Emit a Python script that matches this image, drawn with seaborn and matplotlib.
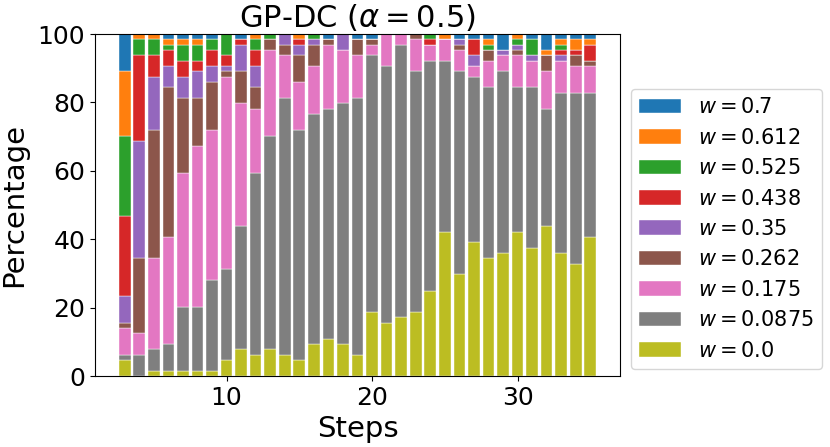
import matplotlib
matplotlib.use("Agg")
import matplotlib.pyplot as plt
import pandas as pd
import seaborn as sns

# optimisation steps on the x axis
steps = list(range(3, 36))

# number of the 64 runs that picked each w at every step
n_runs = 64
w_0_7 = [7, 0, 0, 1, 1, 1, 1, 0, 1, 0, 0, 0, 0, 0, 1, 0, 1, 1, 0, 0,
         0, 0, 0, 1, 1, 1, 3, 0, 1, 3, 1, 1, 1]
w_0_612 = [12, 1, 1, 1, 1, 1, 0, 0, 0, 1, 0, 0, 1, 0, 0, 0, 0, 0, 0, 0,
           0, 0, 1, 0, 0, 1, 0, 1, 0, 1, 1, 2, 1]
w_0_525 = [15, 3, 3, 1, 3, 3, 2, 4, 0, 2, 1, 0, 0, 1, 0, 0, 0, 0, 0, 0,
           0, 1, 0, 0, 0, 1, 0, 1, 3, 0, 1, 0, 0]
w_0_438 = [15, 16, 4, 3, 3, 2, 3, 2, 1, 3, 0, 0, 1, 0, 0, 0, 0, 0, 0, 0,
           0, 1, 0, 0, 3, 0, 0, 0, 0, 0, 1, 1, 3]
w_0_35 = [5, 22, 10, 4, 4, 5, 3, 1, 5, 4, 0, 2, 2, 1, 0, 3, 0, 0, 0, 0,
          0, 0, 0, 1, 2, 0, 1, 1, 1, 0, 1, 0, 0]
w_0_262 = [1, 14, 24, 28, 14, 9, 9, 1, 6, 4, 2, 2, 5, 4, 1, 0, 3, 1, 0, 0,
           1, 0, 0, 1, 0, 2, 0, 1, 0, 3, 0, 2, 1]
w_0_175 = [5, 4, 17, 20, 25, 30, 28, 36, 23, 12, 16, 8, 9, 9, 12, 10, 8, 2, 6, 2,
           6, 3, 4, 4, 2, 5, 3, 6, 5, 7, 6, 5, 5]
w_0_0875 = [1, 4, 4, 5, 12, 12, 17, 17, 23, 34, 40, 48, 43, 43, 43, 45, 48, 48, 48, 51,
            45, 43, 32, 38, 31, 32, 34, 27, 30, 22, 30, 32, 27]
w_0_0 = [3, 0, 1, 1, 1, 1, 1, 3, 5, 4, 5, 4, 3, 6, 7, 6, 4, 12, 10, 11,
         12, 16, 27, 19, 25, 22, 23, 27, 24, 28, 23, 21, 26]

# legend order (top of the stack first)
w_labels = ["0.7", "0.612", "0.525", "0.438", "0.35", "0.262", "0.175", "0.0875", "0.0"]
w_counts = [w_0_7, w_0_612, w_0_525, w_0_438, w_0_35, w_0_262, w_0_175, w_0_0875, w_0_0]

rows = []
for lab, counts in zip(w_labels, w_counts):
    for s, c in zip(steps, counts):
        rows.append({"step": s, "w": f"$w = {lab}$", "pct": 100 * c / n_runs})
df = pd.DataFrame(rows)
hue_order = [f"$w = {lab}$" for lab in w_labels]

fig = plt.figure(figsize=(8.3, 4.47), dpi=100)
ax = fig.add_axes([95 / 830, 1 - 376 / 447, 525 / 830, 342 / 447])

sns.histplot(data=df, x="step", weights="pct", hue="w", hue_order=hue_order,
             multiple="stack", discrete=True, shrink=0.8,
             palette=sns.color_palette("tab10", 9), alpha=1,
             edgecolor="white", linewidth=0.3, ax=ax)

ax.set_xlim(0.96, 37.04)
ax.set_ylim(0, 100)
ax.set_xticks([10, 20, 30])
ax.set_yticks([0, 20, 40, 60, 80, 100])
ax.tick_params(labelsize=18)
ax.set_xlabel("Steps", fontsize=21)
ax.set_ylabel("Percentage", fontsize=21, labelpad=7)
ax.set_title(r"GP-DC ($\alpha = 0.5$)", fontsize=22, pad=5)

sns.move_legend(ax, "upper left", bbox_to_anchor=(631 / 830, 1 - 89 / 447),
                bbox_transform=fig.transFigure, borderaxespad=0,
                title=None, fontsize=15, frameon=True)

fig.savefig("out.png", dpi=100)
